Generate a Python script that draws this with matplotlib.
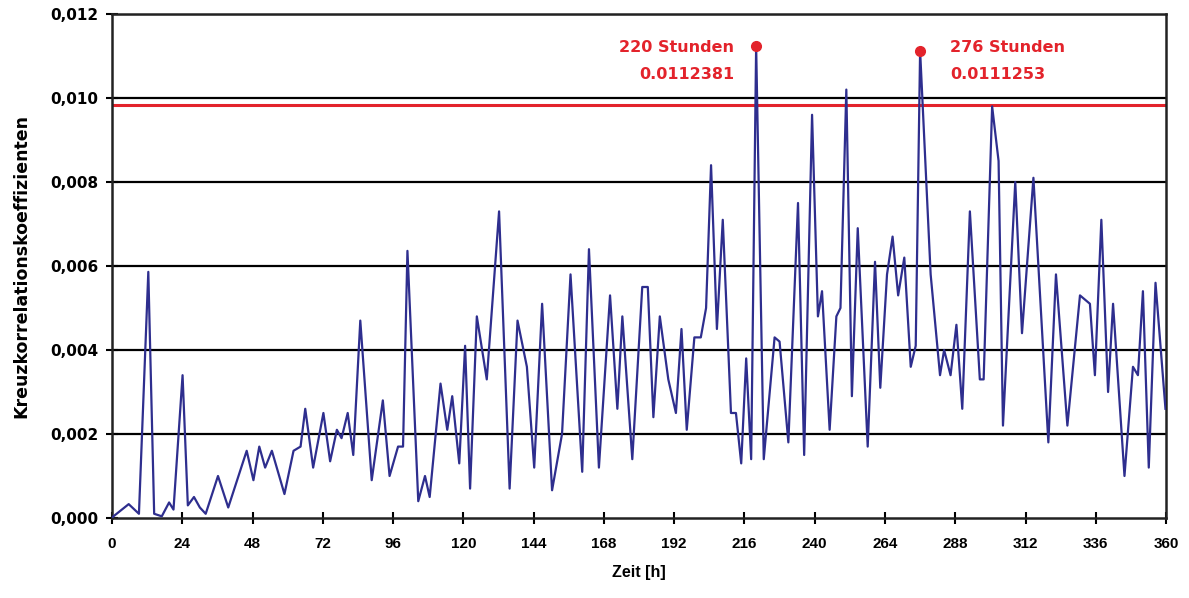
import numpy as np
import matplotlib
matplotlib.use('Agg')
import matplotlib.pyplot as plt
from matplotlib.ticker import FuncFormatter

# Zeit [h] und Kreuzkorrelationskoeffizienten
stunden = [0, 0.5, 5.7, 9.2, 12.4, 14.4, 17, 19.5, 21, 24.1, 25.9, 28, 30, 32, 36.2, 39.7,
           46, 48.3, 50.3, 52.3, 54.6, 58.9, 62, 64.4, 66, 68.7, 72.2, 74.5, 76.8, 78.4,
           80.5, 82.4, 84.8, 88.7, 92.5, 94.8, 97.7, 99.4, 100.9, 104.6, 106.9, 108.5,
           112.2, 114.5, 116.2, 118.6, 120.6, 122.3, 124.6, 128, 132.2, 135.8, 138.5,
           141.7, 144.2, 146.9, 150.3, 153.7, 156.6, 160.6, 162.9, 166.3, 170.1, 172.6,
           174.3, 177.7, 181.1, 183, 184.9, 187.1, 190, 192.6, 194.5, 196.3, 198.9,
           201.1, 202.9, 204.6, 206.6, 208.6, 211.4, 213.1, 214.9, 216.6, 218.3, 220,
           222.6, 226.3, 228, 231, 234.3, 236.4, 239.1, 241.1, 242.5, 245.1, 247.4,
           248.8, 250.8, 252.7, 254.7, 258.1, 260.6, 262.4, 264.7, 266.6, 268.5, 270.6,
           272.8, 274.5, 276, 279.6, 282.8, 284.2, 286.4, 288.4, 290.4, 293, 296.4,
           297.7, 300.6, 302.8, 304.3, 308.5, 310.8, 314.7, 319.8, 322.4, 326.3, 330.6,
           334, 335.7, 337.9, 340.2, 341.9, 345.8, 348.7, 350.4, 352.1, 354.1, 356.4,
           359.8]
koeff = [0.0, 0.00004, 0.00033, 0.0001, 0.00586, 0.0001, 0.00004, 0.00037, 0.0002,
         0.0034, 0.0003, 0.0005, 0.00025, 0.0001, 0.001, 0.00025,
         0.0016, 0.0009, 0.0017, 0.0012, 0.0016, 0.00057, 0.0016, 0.0017, 0.0026,
         0.0012, 0.0025, 0.00135, 0.0021, 0.0019,
         0.0025, 0.0015, 0.0047, 0.0009, 0.0028, 0.001, 0.0017, 0.0017, 0.00636,
         0.0004, 0.001, 0.0005,
         0.0032, 0.0021, 0.0029, 0.0013, 0.0041, 0.0007, 0.0048, 0.0033, 0.0073,
         0.0007, 0.0047,
         0.0036, 0.0012, 0.0051, 0.00066, 0.002, 0.0058, 0.0011, 0.0064, 0.0012,
         0.0053, 0.0026,
         0.0048, 0.0014, 0.0055, 0.0055, 0.0024, 0.0048, 0.0033, 0.0025, 0.0045,
         0.0021, 0.0043,
         0.0043, 0.005, 0.0084, 0.0045, 0.0071, 0.0025, 0.0025, 0.0013, 0.0038,
         0.0014, 0.0112381,
         0.0014, 0.0043, 0.0042, 0.0018, 0.0075, 0.0015, 0.0096, 0.0048, 0.0054,
         0.0021, 0.0048,
         0.005, 0.0102, 0.0029, 0.0069, 0.0017, 0.0061, 0.0031, 0.0058, 0.0067,
         0.0053, 0.0062,
         0.0036, 0.0041, 0.0111253, 0.0058, 0.0034, 0.004, 0.0034, 0.0046, 0.0026,
         0.0073, 0.0033,
         0.0033, 0.0098, 0.0085, 0.0022, 0.008, 0.0044, 0.0081, 0.0018, 0.0058,
         0.0022, 0.0053,
         0.0051, 0.0034, 0.0071, 0.003, 0.0051, 0.001, 0.0036, 0.0034, 0.0054,
         0.0012, 0.0056,
         0.0026]

schwelle = 0.00983
max_stunden = [220, 276]
max_werte = [0.0112381, 0.0111253]
max_titel = ['220 Stunden', '276 Stunden']
max_labels = ['0.0112381', '0.0111253']

rot = '#E3232B'
blau = '#2E2E8E'

fig = plt.figure(figsize=(11.89, 5.98), dpi=100)
ax = fig.add_axes([0.0942, 0.1338, 0.8865, 0.8428])

for y in np.arange(0.002, 0.0121, 0.002):
    ax.axhline(y, color='black', lw=1.6, zorder=1)
ax.axhline(schwelle, color=rot, lw=2.2, zorder=2)

ax.plot(stunden, koeff, color=blau, lw=1.6, zorder=3, solid_joinstyle='round')
ax.plot(max_stunden, max_werte, 'o', color=rot, ms=7, zorder=4)

# Beschriftung der beiden Maxima
tx = [212.4, 286.2]
ha = ['right', 'left']
for i in range(2):
    ax.text(tx[i], 0.01121, max_titel[i], color=rot, fontsize=11.5,
            fontweight='bold', family='DejaVu Sans', ha=ha[i], va='center')
    ax.text(tx[i], 0.01057, max_labels[i], color=rot, fontsize=11.5,
            fontweight='bold', family='DejaVu Sans', ha=ha[i], va='center')

ax.set_xlim(0, 360)
ax.set_ylim(0, 0.012)
ax.set_xticks(np.arange(0, 361, 24))
ax.set_yticks(np.arange(0, 0.0121, 0.002))
ax.yaxis.set_major_formatter(FuncFormatter(lambda v, p: f'{v:.3f}'.replace('.', ',')))

for s in ax.spines.values():
    s.set_linewidth(1.8)
    s.set_color('#222222')

ax.tick_params(axis='both', direction='inout', length=8, width=1.5)
ax.tick_params(axis='y', pad=6)
ax.tick_params(axis='x', pad=10)
for lab in ax.get_yticklabels():
    lab.set_family('DejaVu Sans')
    lab.set_fontweight('bold')
    lab.set_fontsize(11)
for lab in ax.get_xticklabels():
    lab.set_family('Liberation Sans')
    lab.set_fontweight('bold')
    lab.set_fontsize(11)

ax.set_xlabel('Zeit [h]', family='Liberation Sans', fontweight='bold', fontsize=11.5, labelpad=10)
ax.set_ylabel('Kreuzkorrelationskoeffizienten', family='DejaVu Sans', fontweight='bold',
              fontsize=12.5, labelpad=14)

fig.savefig('out.png', dpi=100)
